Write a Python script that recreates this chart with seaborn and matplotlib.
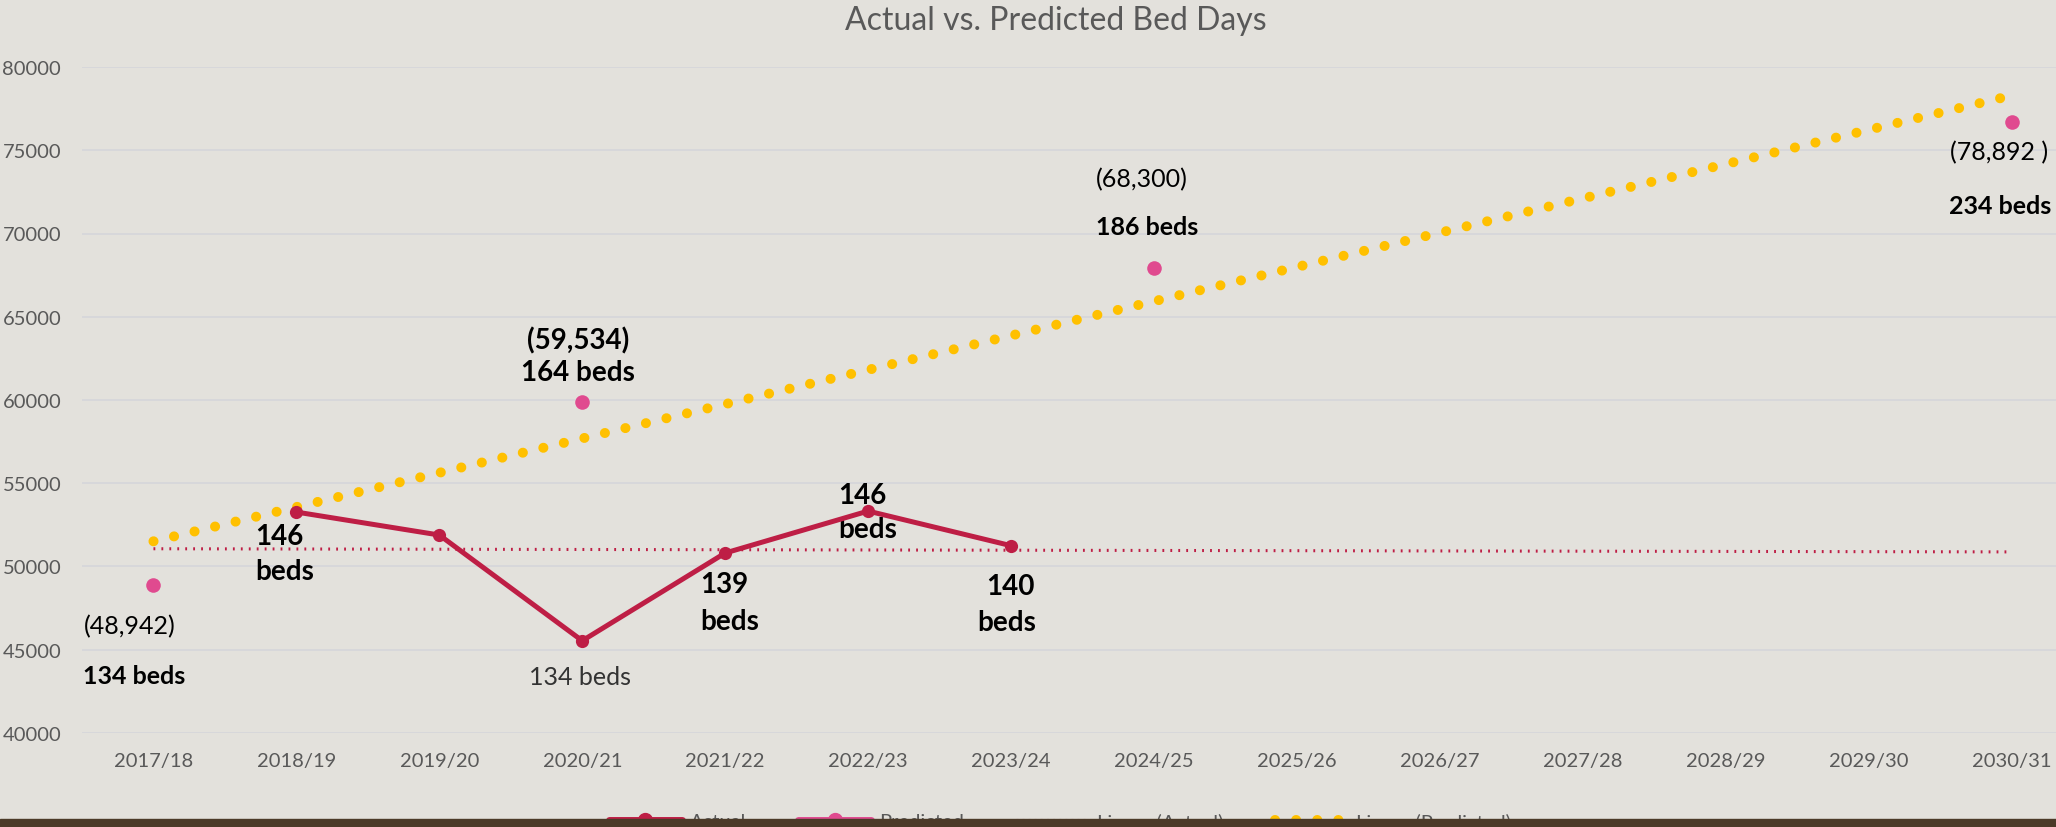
# Actual vs. Predicted Bed Days - line chart with trendlines

import numpy as np
import pandas as pd
import seaborn as sns
import matplotlib.pyplot as plt
from matplotlib.lines import Line2D
from matplotlib.patches import Rectangle

# ================================
# data
# ================================
years = ['2017/18', '2018/19', '2019/20', '2020/21', '2021/22', '2022/23', '2023/24',
         '2024/25', '2025/26', '2026/27', '2027/28', '2028/29', '2029/30', '2030/31']

actual_years = ['2018/19', '2019/20', '2020/21', '2021/22', '2022/23', '2023/24']
actual_days = [53270, 51890, 45540, 50810, 53330, 51250]
actual_beds = ['146', '', '134', '139', '146', '140']

predicted_years = ['2017/18', '2020/21', '2024/25', '2030/31']
predicted_days = [48890, 59900, 67930, 76700]
predicted_text = ['(48,942)', '(59,534)', '(68,300)', '(78,892 )']
predicted_beds = ['134 beds', '164 beds', '186 beds', '234 beds']

pos = {y: i for i, y in enumerate(years)}
df_act = pd.DataFrame({'x': [pos[y] for y in actual_years], 'days': actual_days})
df_pred = pd.DataFrame({'x': [pos[y] for y in predicted_years], 'days': predicted_days})

# linear trendlines (like Excel "Linear (...)")
xs = np.arange(len(years))
fit_act = np.polyfit(df_act['x'], df_act['days'], 1)
fit_pred = np.polyfit(df_pred['x'], df_pred['days'], 1)
df_trend = pd.DataFrame({'x': xs,
                         'act': np.polyval(fit_act, xs),
                         'pred': np.polyval(fit_pred, xs)})

# ================================
# style
# ================================
RED = '#be1e45'
PINK = '#e04a8f'
GOLD = '#ffc000'
GREY = '#595959'
BG = '#e3e1dc'

sns.set_style('white')
plt.rcParams['font.family'] = ['Lato', 'DejaVu Sans']

fig = plt.figure(figsize=(20.56, 8.28), dpi=100, facecolor=BG)
ax = fig.add_axes([82 / 2056, 1 - 734 / 828, 2001 / 2056, 666 / 828])
ax.set_facecolor('none')

sns.lineplot(x='x', y='act', data=df_trend, ax=ax, color=RED, lw=2.2,
             linestyle=(0, (0.6, 2.0)), legend=False, zorder=3)
sns.lineplot(x='x', y='pred', data=df_trend, ax=ax, color=GOLD, lw=7.2,
             linestyle=(0, (0.01, 2.1)), dash_capstyle='round', legend=False, zorder=3)
sns.lineplot(x='x', y='days', data=df_act, ax=ax, color=RED, lw=3.6, marker='o',
             markersize=9.5, markeredgewidth=0, legend=False, zorder=4)
sns.scatterplot(x='x', y='days', data=df_pred, ax=ax, color=PINK, s=110,
                linewidth=0, legend=False, zorder=5)

ax.set_xlim(-0.5, 13.5)
ax.set_ylim(40000, 80000)
ax.set_yticks(np.arange(40000, 80001, 5000))
ax.set_xticks(xs)
ax.set_xticklabels(years)
ax.set_xlabel('')
ax.set_ylabel('')
ax.tick_params(axis='both', length=0, labelsize=14.5, labelcolor=GREY)
ax.tick_params(axis='y', pad=15)
ax.tick_params(axis='x', pad=14)
ax.grid(axis='y', color='#d6d6da', lw=1.3)
for s in ax.spines.values():
    s.set_visible(False)

# ================================
# labels
# ================================
def label(x, y, txt, dx, dy, size=20, weight='bold', color='black'):
    ax.annotate(txt, (x, y), xytext=(dx * 0.72, dy * 0.72), textcoords='offset points',
                ha='center', va='center', fontsize=size, fontweight=weight,
                color=color, annotation_clip=False)

# actual series labels (offsets in pixels)
act_offsets = [((-17, -24), (-12, -59)), None, None,
               ((-1, -31), (5, -68)), ((-6, 16), (0, -18)), ((-1, -40), (-4, -76))]
for (x, y), b, off in zip(df_act.values, actual_beds, act_offsets):
    if off is None:
        continue
    label(x, y, b, *off[0])
    label(x, y, 'beds', *off[1])
# dip year label in regular weight
label(df_act['x'][2], df_act['days'][2], actual_beds[2] + ' beds', -2, -36,
      size=18, weight='normal', color='#333333')

pred_offsets = [((-24, -41), (-19, -91)), ((-4, 62), (-4, 30)),
                ((-12, 89), (-7, 41)), ((-12, -30), (-11, -84))]
for i, ((x, y), t, b, off) in enumerate(zip(df_pred.values, predicted_text,
                                             predicted_beds, pred_offsets)):
    if i == 1:
        label(x, y, t, *off[0], size=20)
        label(x, y, b, *off[1], size=20)
    else:
        label(x, y, t, *off[0], size=18, weight='normal')
        label(x, y, b, *off[1], size=18)

fig.text(1056 / 2056, 1 - 21 / 828, 'Actual vs. Predicted Bed Days', ha='center',
         va='center', fontsize=23, color=GREY)

# ================================
# legend + wooden strip at the bottom
# ================================
handles = [
    Line2D([], [], color=RED, lw=5, marker='o', markersize=10),
    Line2D([], [], color=PINK, lw=5, marker='o', markersize=10),
    Line2D([], [], color=RED, lw=2.2, linestyle=(0, (0.6, 1.4))),
    Line2D([], [], color=GOLD, lw=7.2, linestyle=(0, (0.01, 2.1)), dash_capstyle='round'),
]
fig.legend(handles, ['Actual', 'Predicted', 'Linear (Actual)', 'Linear (Predicted)'],
           loc='center', bbox_to_anchor=(1060 / 2056, 1 - 822 / 828), ncol=4,
           frameon=False, fontsize=14.5, labelcolor=GREY, handlelength=3.6,
           handletextpad=0.4, columnspacing=2.6)
fig.add_artist(Rectangle((0, 0), 1, 8 / 828, transform=fig.transFigure,
                         color='#4b3a28', zorder=10))

fig.savefig('out.png', dpi=100, facecolor=BG)
